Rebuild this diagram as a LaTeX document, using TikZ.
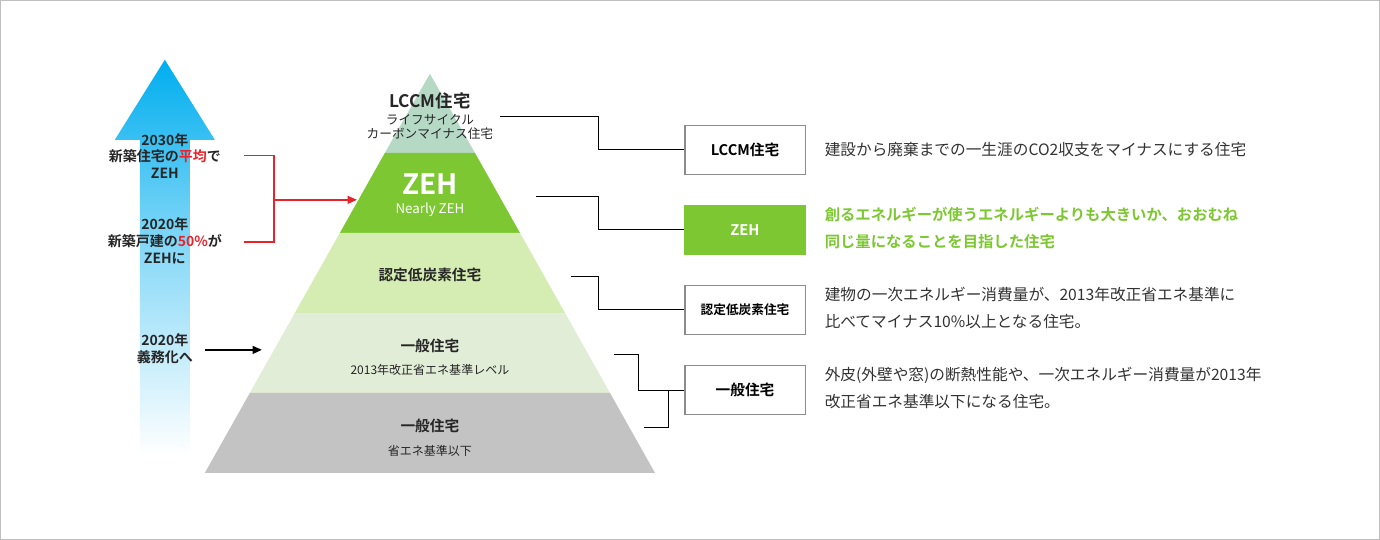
\documentclass[tikz,border=0pt]{standalone}
\usepackage{fontspec}
\setmainfont{Noto Sans CJK JP}
\newfontfamily\cjkb{Noto Sans CJK JP Bold}
\usetikzlibrary{arrows.meta}
\definecolor{zehgreen}{HTML}{7DC832}
\definecolor{lccmcol}{HTML}{B6D9C6}
\definecolor{ninteicol}{HTML}{D5ECB3}
\definecolor{ippancol}{HTML}{E1EDD6}
\definecolor{lowcol}{HTML}{C3C3C3}
\definecolor{redline}{HTML}{E8232A}
\definecolor{arrowblue}{HTML}{00AEEF}
\tikzset{
  lbl/.style={align=center,font=\cjkb\fontsize{10.5pt}{12.5pt}\selectfont,text=black!85},
  sub/.style={align=center,font=\fontsize{9pt}{11pt}\selectfont,text=black!85},
  kbox/.style={draw=black!45,line width=0.8pt,minimum width=90pt,minimum height=36.75pt,font=\cjkb\fontsize{11pt}{13pt}\selectfont},
  desc/.style={anchor=west,align=left,font=\fontsize{11.75pt}{20pt}\selectfont,text=black!80},
  conn/.style={draw=black,line width=0.6pt},
}
\begin{document}
\begin{tikzpicture}[x=0.75pt,y=-0.75pt]
\draw[black!25,fill=white] (0.5,0.5) rectangle (1379.5,539.5);
% blue arrow
\shade[top color=arrowblue,bottom color=white,middle color=arrowblue!45]
  (140,140) -- (115,140) -- (165,60) -- (215,140) -- (190,140) -- (190,455) -- (140,455) -- cycle;
% pyramid
\fill[lccmcol] (430,74) -- (475,153) -- (385,153) -- cycle;
\fill[zehgreen] (385,153) -- (475,153) -- (520,233) -- (340,233) -- cycle;
\fill[ninteicol] (340,233) -- (520,233) -- (565,313) -- (295,313) -- cycle;
\fill[ippancol] (295,313) -- (565,313) -- (610,393) -- (250,393) -- cycle;
\fill[lowcol] (250,393) -- (610,393) -- (655,473) -- (205,473) -- cycle;
% pyramid labels
\node[lbl,font=\cjkb\fontsize{13pt}{14pt}\selectfont] (lccm) at (430,101) {LCCM住宅};
\node[sub,font=\fontsize{9.5pt}{11pt}\selectfont] (lccmsub) at (430,127) {ライフサイクル\\カーボンマイナス住宅};
\node[lbl,text=white,font=\cjkb\fontsize{21pt}{22pt}\selectfont] (zeh) at (430,184) {ZEH};
\node[sub,text=white,font=\fontsize{10pt}{11pt}\selectfont] (nzeh) at (430,210) {Nearly ZEH};
\node[lbl,font=\cjkb\fontsize{11pt}{13pt}\selectfont] (nintei) at (430,275) {認定低炭素住宅};
\node[lbl,font=\cjkb\fontsize{11pt}{13pt}\selectfont] (ippan) at (430,346) {一般住宅};
\node[sub] (ippansub) at (430,370) {2013年改正省エネ基準レベル};
\node[lbl,font=\cjkb\fontsize{11pt}{13pt}\selectfont] (low) at (430,426) {一般住宅};
\node[sub] (lowsub) at (430,451) {省エネ基準以下};
% arrow labels
\node[lbl] (y2030) at (165,156) {2030年\\新築住宅の\textcolor{redline}{平均}で\\ZEH};
\node[lbl] (y2020) at (165,241) {2020年\\新築戸建の\textcolor{redline}{50\%}が\\ZEHに};
\node[lbl] (gimu) at (165,349) {2020年\\義務化へ};
\coordinate (a2030) at (244,156);
\coordinate (a2020) at (244,242);
\coordinate (ared) at (357,200);
\coordinate (gimuend) at (262,350);
\draw[redline,line width=1pt] (a2030) -| (274,242) -- (a2020);
\draw[redline,line width=1pt,-{Triangle[length=7pt,width=6pt]}] (274,200) -- (ared);
\draw[black,line width=1pt,-{Triangle[length=7pt,width=6pt]}] (205,350) -- (gimuend);
% key boxes
\node[kbox] (klccm) at (745,150) {LCCM住宅};
\node[kbox,fill=zehgreen,draw=zehgreen,text=white] (kzeh) at (745,230) {ZEH};
\node[kbox,font=\cjkb\fontsize{9.5pt}{11pt}\selectfont] (knintei) at (745,310) {認定低炭素住宅};
\node[kbox] (kippan) at (745,390) {一般住宅};
\draw[conn] (500,117) -- (598,117) |- (klccm.west);
\draw[conn] (536,197) -- (598,197) |- (kzeh.west);
\draw[conn] (571,277) -- (598,277) |- (knintei.west);
\draw[conn] (614,355) -- (638,355) |- (kippan.west);
\draw[conn] (644,427) -- (668,427) -- (668,390);
% descriptions
\node[desc] (dlccm) at (820,150) {建設から廃棄までの一生涯のCO2収支をマイナスにする住宅};
\node[desc,text=zehgreen,font=\cjkb\fontsize{11.5pt}{20pt}\selectfont] (dzeh) at (820,228) {創るエネルギーが使うエネルギーよりも大きいか、おおむね\\同じ量になることを目指した住宅};
\node[desc] (dnintei) at (820,308) {建物の一次エネルギー消費量が、2013年改正省エネ基準に\\比べてマイナス10\%以上となる住宅。};
\node[desc] (dippan) at (820,388) {外皮(外壁や窓)の断熱性能や、一次エネルギー消費量が2013年\\改正省エネ基準以下になる住宅。};
\end{tikzpicture}
\end{document}
